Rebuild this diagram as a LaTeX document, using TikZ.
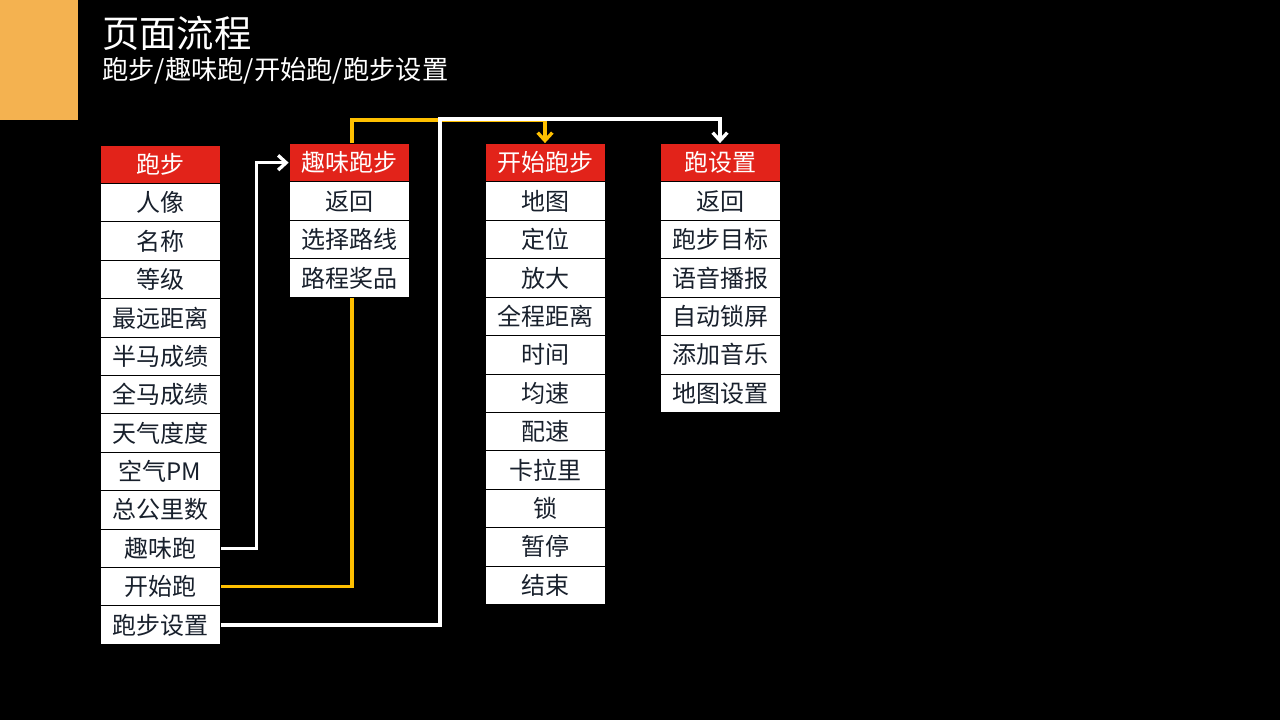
\documentclass[tikz,border=0pt]{standalone}
\usepackage{fontspec}
\setmainfont{Noto Sans CJK SC}
\usetikzlibrary{arrows.meta}
\pgfdeclarelayer{ground}
\pgfdeclarelayer{lines}
\pgfsetlayers{ground,lines,main}
\definecolor{barOrange}{RGB}{244,178,80}
\definecolor{headRed}{RGB}{226,35,26}
\definecolor{linkGold}{RGB}{255,192,0}
\definecolor{cellText}{RGB}{24,32,44}
\begin{document}
\begin{tikzpicture}[x=0.75pt,y=0.75pt,yscale=-1,xscale=1,
  cell/.style={draw=black,line width=0.6pt,fill=white,text=cellText,minimum width=90pt,minimum height=28.8pt,inner sep=0pt,font=\fontsize{18pt}{20pt}\selectfont},
  head/.style={cell,fill=headRed,text=white},
  link/.style={draw=white,line width=2.5pt,-{Straight Barb[length=6pt,width=11pt]}},
  goldlink/.style={link,draw=linkGold}]
\useasboundingbox (0,0) rectangle (1280,720);
\begin{pgfonlayer}{ground}
\fill [black] (0,0) rectangle (1280,720);
%Shape: Rectangle
\fill [barOrange] (0,0) rectangle (78,120);
\end{pgfonlayer}

% Text Node
\node (title) [anchor=west,inner sep=0pt,text=white,font=\fontsize{28pt}{30pt}\selectfont] at (102,33) {页面流程};
% Text Node
\node (subtitle) [anchor=west,inner sep=0pt,text=white,font=\fontsize{19.7pt}{22pt}\selectfont] at (102,71) {跑步/趣味跑/开始跑/跑步设置};

% Column: 跑步
\node (run0) [head] at (160,164.2) {跑步};
\node (run1) [cell] at (160,202.6) {人像};
\node (run2) [cell] at (160,241.0) {名称};
\node (run3) [cell] at (160,279.4) {等级};
\node (run4) [cell] at (160,317.8) {最远距离};
\node (run5) [cell] at (160,356.2) {半马成绩};
\node (run6) [cell] at (160,394.6) {全马成绩};
\node (run7) [cell] at (160,433.0) {天气度度};
\node (run8) [cell] at (160,471.4) {空气PM};
\node (run9) [cell] at (160,509.8) {总公里数};
\node (run10) [cell] at (160,548.2) {趣味跑};
\node (run11) [cell] at (160,586.6) {开始跑};
\node (run12) [cell] at (160,625.0) {跑步设置};

% Column: 趣味跑步
\node (fun0) [head] at (349,162.7) {趣味跑步};
\node (fun1) [cell] at (349,201.1) {返回};
\node (fun2) [cell] at (349,239.5) {选择路线};
\node (fun3) [cell] at (349,277.9) {路程奖品};

% Column: 开始跑步
\node (start0) [head] at (545,162.7) {开始跑步};
\node (start1) [cell] at (545,201.1) {地图};
\node (start2) [cell] at (545,239.5) {定位};
\node (start3) [cell] at (545,277.9) {放大};
\node (start4) [cell] at (545,316.3) {全程距离};
\node (start5) [cell] at (545,354.7) {时间};
\node (start6) [cell] at (545,393.1) {均速};
\node (start7) [cell] at (545,431.5) {配速};
\node (start8) [cell] at (545,469.9) {卡拉里};
\node (start9) [cell] at (545,508.3) {锁};
\node (start10) [cell] at (545,546.7) {暂停};
\node (start11) [cell] at (545,585.1) {结束};

% Column: 跑设置
\node (set0) [head] at (720,162.7) {跑设置};
\node (set1) [cell] at (720,201.1) {返回};
\node (set2) [cell] at (720,239.5) {跑步目标};
\node (set3) [cell] at (720,277.9) {语音播报};
\node (set4) [cell] at (720,316.3) {自动锁屏};
\node (set5) [cell] at (720,354.7) {添加音乐};
\node (set6) [cell] at (720,393.1) {地图设置};

\coordinate (goldtop) at (352,120);
\coordinate (whitetop) at (440,119);

\begin{pgfonlayer}{lines}
%Straight Lines
\draw [link] (run10.east) -- ++(36,0) |- (fun0.west);
%Straight Lines
\draw [goldlink] (run11.east) -| (goldtop) -| (start0.north);
%Straight Lines
\draw [link] (run12.east) -| (whitetop) -| (set0.north);
\end{pgfonlayer}

\end{tikzpicture}
\end{document}
